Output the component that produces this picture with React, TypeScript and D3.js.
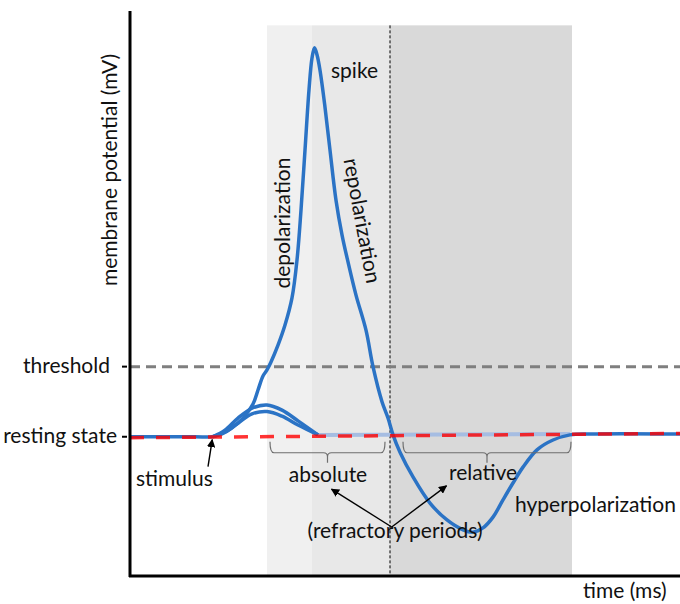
import React from 'react';
import * as d3 from 'd3';

// membrane potential trace, time in ms (arbitrary), voltage in mV
const spikeT = [0, 1.3, 1.64, 1.84, 2.04, 2.26, 2.46, 2.56, 2.66, 2.74, 2.82, 2.96, 3.1, 3.24, 3.34, 3.42, 3.5, 3.58, 3.64, 3.69, 3.74, 3.8, 3.9, 4.0, 4.12, 4.24, 4.36, 4.52, 4.72, 4.86, 5.04, 5.16, 5.26, 5.4, 5.66, 6.0, 6.34, 6.66, 6.86, 7.06, 7.26, 7.46, 7.66, 7.86, 8.14, 8.46, 8.8, 9.2, 11];
const spikeV = [-70, -70, -70, -69.4, -68.1, -66.0, -63.0, -60.0, -57.0, -55.7, -54.0, -50.4, -46.1, -40.3, -32.2, -21.5, -8.7, 4.2, 11.0, 13.2, 11.7, 8.4, 0.5, -8.7, -19.4, -26.8, -32.6, -39.7, -47.2, -55.0, -62.5, -66.0, -69.6, -73.3, -78.6, -84.2, -87.8, -89.9, -90.4, -89.5, -87.2, -83.5, -79.9, -76.5, -72.8, -70.7, -69.6, -69.4, -69.4];

// failed (sub-threshold) stimuli
const bumpT = [1.66, 1.9, 2.16, 2.44, 2.74, 3.04, 3.36, 3.76];
const bumpHighV = [-70, -68.6, -66.0, -63.9, -63.2, -64.3, -66.6, -69.6];
const bumpLowV = [-70, -69.0, -67.1, -65.1, -64.6, -65.6, -67.5, -69.6];

const restT = [0, 11];
const restV = [-70.2, -69.3];
const thresholdV = -55;
const restShadowT = [3.76, 8.8];
const restShadowV = [-69.6, -69.4];

// shaded phases: start, end, fill
const phaseStart = [2.74, 3.64, 5.2];
const phaseEnd = [3.64, 5.2, 8.84];
const phaseFill = ['#f0f0f0', '#e8e8e8', '#d9d9d9'];
const phaseTop = 18;
const dividerT = 5.2;

// refractory braces
const braceStart = [2.8, 5.46];
const braceEnd = [5.1, 8.82];

// arrows: from (t, v) to (t, v)
const arrowFromT = [5.234, 5.234, 1.56];
const arrowFromV = [-89.3, -89.3, -76.4];
const arrowToT = [4.03, 6.33, 1.645];
const arrowToV = [-81.2, -80.5, -70.6];

const W = 680;
const H = 604;
const font = 'Lato, sans-serif';
const fs = 21;

export default function App() {
  const x = d3.scaleLinear().domain([0, 11]).range([130, 680]);
  const y = d3.scaleLinear().domain([-100, 20]).range([577, 16]);

  const line = d3.line<[number, number]>()
    .x(d => x(d[0]))
    .y(d => y(d[1]))
    .curve(d3.curveCatmullRom.alpha(0.5));
  const straight = d3.line<[number, number]>().x(d => x(d[0])).y(d => y(d[1]));

  const spike = spikeT.map((t, i) => [t, spikeV[i]] as [number, number]);
  const bumpHigh = bumpT.map((t, i) => [t, bumpHighV[i]] as [number, number]);
  const bumpLow = bumpT.map((t, i) => [t, bumpLowV[i]] as [number, number]);
  const rest = restT.map((t, i) => [t, restV[i]] as [number, number]);
  const restShadow = restShadowT.map((t, i) => [t, restShadowV[i]] as [number, number]);

  const blue = '#2b73c5';
  const restY = y(-70);

  const brace = (x0: number, x1: number) => {
    const yT = restY + 5;
    const yH = restY + 16;
    const xm = (x0 + x1) / 2;
    return `M${x0},${yT} Q${x0},${yH} ${x0 + 4},${yH} L${xm - 4},${yH} Q${xm},${yH} ${xm},${yH + 4} Q${xm},${yH} ${xm + 4},${yH} L${x1 - 4},${yH} Q${x1},${yH} ${x1},${yT} M${xm},${yH + 4} L${xm},${yH + 10}`;
  };

  return (
    <svg width={W} height={H} style={{ position: 'absolute', left: 0, top: 0, background: '#fff' }} fontFamily={font} fontSize={fs}>
      <defs>
        <marker id="ah" viewBox="0 0 10 10" refX="9" refY="5" markerWidth="6" markerHeight="6" orient="auto">
          <path d="M0,0 L10,5 L0,10 z" fill="#000" />
        </marker>
      </defs>

      {phaseStart.map((s, i) => (
        <rect key={i} x={x(s)} y={y(phaseTop)} width={x(phaseEnd[i]) - x(s)} height={y(-100) - y(phaseTop)} fill={phaseFill[i]} />
      ))}
      <line x1={x(dividerT)} x2={x(dividerT)} y1={y(phaseTop)} y2={y(-100)} stroke="#000" strokeWidth={1} strokeDasharray="3,2" />

      {/* threshold */}
      <line x1={x(0)} x2={x(11)} y1={y(thresholdV)} y2={y(thresholdV)} stroke="#7f7f7f" strokeWidth={3} strokeDasharray="10,6" />

      <path d={straight(restShadow) || ''} fill="none" stroke="#a6bde2" strokeWidth={4} />
      <path d={line(bumpHigh) || ''} fill="none" stroke={blue} strokeWidth={3.5} />
      <path d={line(bumpLow) || ''} fill="none" stroke={blue} strokeWidth={3.5} />
      <path d={line(spike) || ''} fill="none" stroke={blue} strokeWidth={3.5} strokeLinejoin="round" />
      <path d={straight(rest) || ''} fill="none" stroke="#ff0000" strokeOpacity={0.8} strokeWidth={3.5} strokeDasharray="14,12" />

      {/* axes */}
      <line x1={130} x2={130} y1={11} y2={577} stroke="#000" strokeWidth={3} />
      <line x1={129} x2={680} y1={576} y2={576} stroke="#000" strokeWidth={3} />
      <line x1={122} x2={127} y1={y(thresholdV)} y2={y(thresholdV)} stroke="#000" strokeWidth={2} />
      <line x1={122} x2={127} y1={restY} y2={restY} stroke="#000" strokeWidth={2} />

      {braceStart.map((s, i) => (
        <path key={i} d={brace(x(s), x(braceEnd[i]))} fill="none" stroke="#6e6e6e" strokeWidth={1.2} />
      ))}

      {arrowFromT.map((t, i) => (
        <line key={i} x1={x(t)} y1={y(arrowFromV[i])} x2={x(arrowToT[i])} y2={y(arrowToV[i])} stroke="#000" strokeWidth={1.4} markerEnd="url(#ah)" />
      ))}

      <g fill="#111">
        <text x={110} y={373} textAnchor="end">threshold</text>
        <text x={117} y={443} textAnchor="end">resting state</text>
        <text x={136} y={486}>stimulus</text>
        <text x={331} y={78}>spike</text>
        <text x={328} y={482} textAnchor="middle">absolute</text>
        <text x={483} y={480} textAnchor="middle">relative</text>
        <text x={515} y={512}>hyperpolarization</text>
        <text x={395} y={538} textAnchor="middle">(refractory periods)</text>
        <text x={583} y={598}>time (ms)</text>
        <text transform="translate(117,170) rotate(-90)" textAnchor="middle">membrane potential (mV)</text>
        <text transform="translate(290,223) rotate(-90)" textAnchor="middle">depolarization</text>
        <text transform="translate(355,222) rotate(79.5)" textAnchor="middle">repolarization</text>
      </g>
    </svg>
  );
}
